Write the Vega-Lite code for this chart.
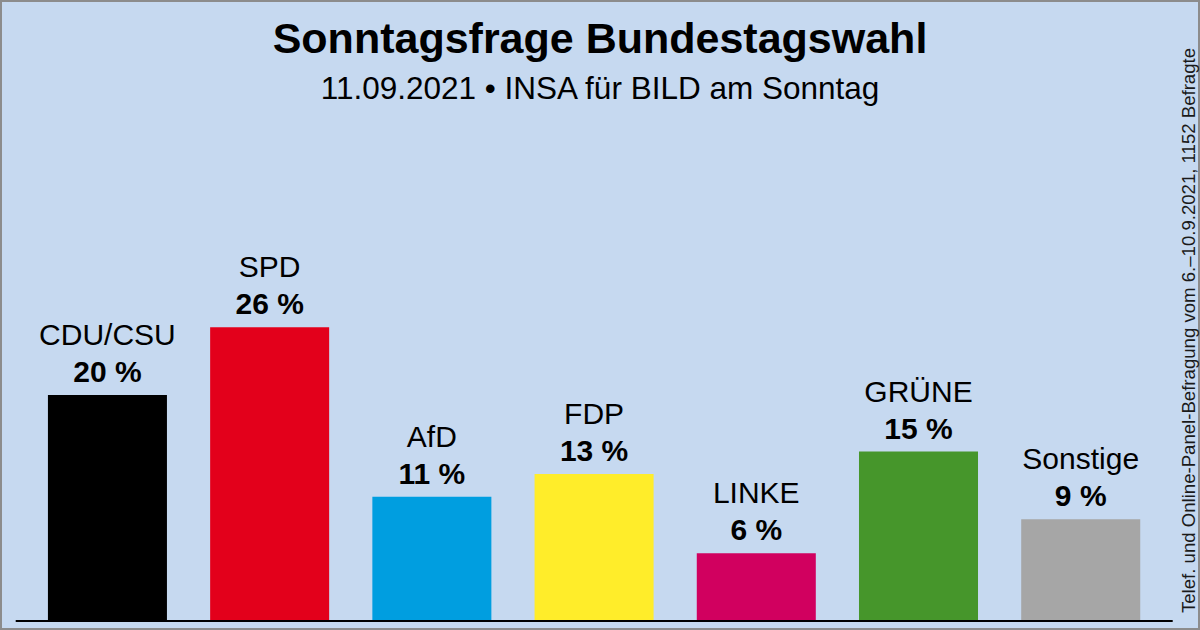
{
  "$schema": "https://vega.github.io/schema/vega-lite/v6.json",
  "width": 1200,
  "height": 630,
  "autosize": "none",
  "padding": 0,
  "background": "#c6d9f0",
  "config": {
    "view": {"fill": "#c6d9f0", "stroke": "#8c8c8c", "strokeWidth": 4},
    "font": "Liberation Sans"
  },
  "title": {
    "text": "Sonntagsfrage Bundestagswahl",
    "subtitle": "11.09.2021 • INSA für BILD am Sonntag",
    "anchor": "middle",
    "frame": "group",
    "offset": -105,
    "font": "Liberation Sans",
    "fontSize": 43,
    "fontWeight": "bold",
    "color": "#000000",
    "subtitleFont": "Liberation Sans",
    "subtitleFontSize": 31.5,
    "subtitleColor": "#000000",
    "subtitlePadding": 12
  },
  "data": {
    "values": [
      {"party": "CDU/CSU", "value": 20, "label": "20 %"},
      {"party": "SPD", "value": 26, "label": "26 %"},
      {"party": "AfD", "value": 11, "label": "11 %"},
      {"party": "FDP", "value": 13, "label": "13 %"},
      {"party": "LINKE", "value": 6, "label": "6 %"},
      {"party": "GRÜNE", "value": 15, "label": "15 %"},
      {"party": "Sonstige", "value": 9, "label": "9 %"}
    ]
  },
  "encoding": {
    "x": {
      "field": "party",
      "type": "nominal",
      "sort": null,
      "axis": null,
      "scale": {"paddingInner": 0.2663, "paddingOuter": 0.332, "align": 0.445, "round": false}
    }
  },
  "layer": [
    {
      "mark": {"type": "bar"},
      "encoding": {
        "y": {
          "field": "value",
          "type": "quantitative",
          "scale": {"domain": [-0.7965, 54.956], "nice": false, "zero": false},
          "axis": {
            "orient": "right",
            "title": "Telef. und Online-Panel-Befragung vom 6.–10.9.2021, 1152 Befragte",
            "labels": false,
            "ticks": false,
            "domain": false,
            "grid": false,
            "titleAngle": 270,
            "titleX": -12,
            "titleY": 330,
            "titleAlign": "center",
            "titleBaseline": "middle",
            "titleFont": "Liberation Sans",
            "titleFontSize": 18.6,
            "titleFontWeight": "normal",
            "titleColor": "#1a1a1a"
          }
        },
        "y2": {"datum": 0},
        "color": {
          "field": "party",
          "type": "nominal",
          "legend": null,
          "scale": {
            "domain": ["CDU/CSU", "SPD", "AfD", "FDP", "LINKE", "GRÜNE", "Sonstige"],
            "range": ["#000000", "#e3001b", "#009ee0", "#ffed2a", "#d1005f", "#46962b", "#a6a6a6"]
          }
        }
      }
    },
    {
      "mark": {"type": "rule", "color": "#000000", "strokeWidth": 1.5, "xOffset": -91.5, "x2Offset": 91.5},
      "encoding": {
        "x": {"datum": "CDU/CSU", "type": "nominal"},
        "x2": {"datum": "Sonstige"},
        "y": {"datum": 0, "type": "quantitative"}
      }
    },
    {
      "mark": {"type": "text", "baseline": "alphabetic", "align": "center", "dy": -13, "fontSize": 30, "fontWeight": "bold", "color": "#000000", "font": "Liberation Sans"},
      "encoding": {
        "y": {"field": "value", "type": "quantitative"},
        "text": {"field": "label"}
      }
    },
    {
      "mark": {"type": "text", "baseline": "alphabetic", "align": "center", "dy": -50, "fontSize": 30, "fontWeight": "normal", "color": "#000000", "font": "Liberation Sans"},
      "encoding": {
        "y": {"field": "value", "type": "quantitative"},
        "text": {"field": "party"}
      }
    }
  ]
}
